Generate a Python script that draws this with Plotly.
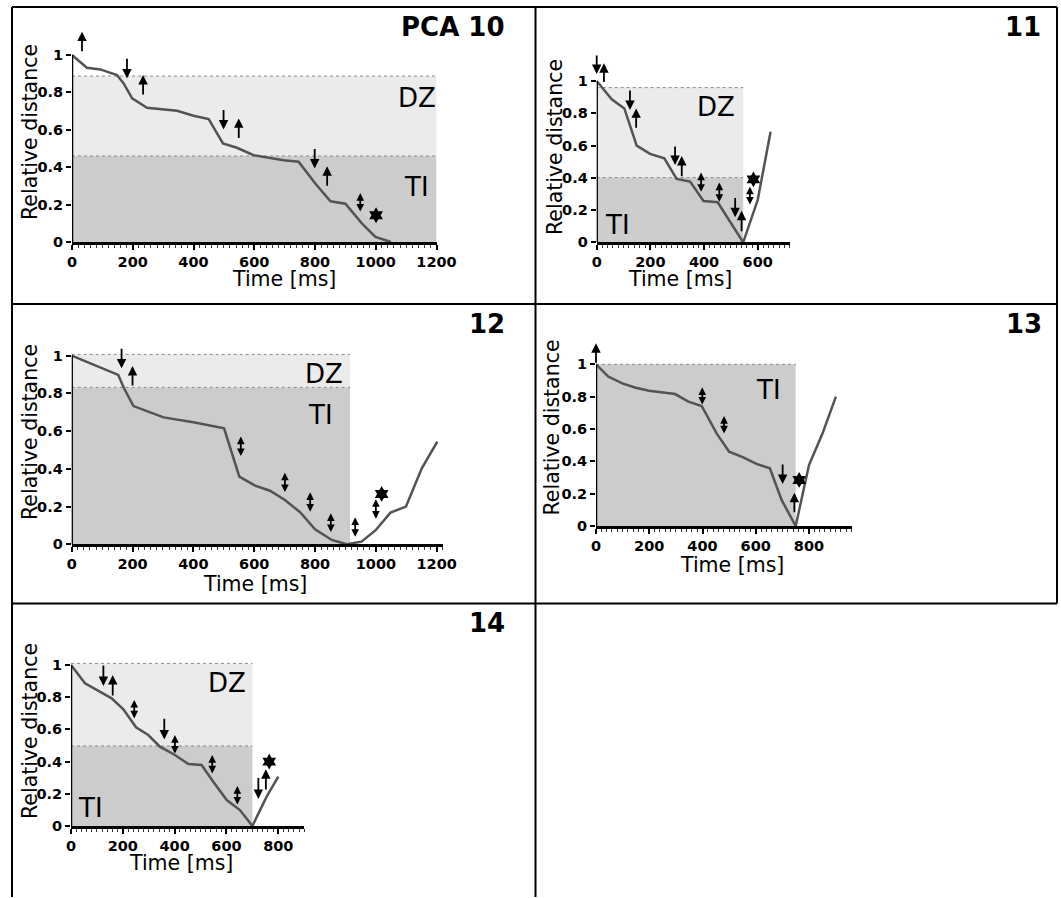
import plotly.graph_objects as go

W, H = 1061, 898

# ---------------- data ----------------
# Panel "PCA 10"
p10_t = [0, 49, 93, 148, 170, 198, 247, 346, 400, 450, 497, 543, 598, 697, 746, 801, 851, 900, 955, 999, 1050]
p10_d = [1.0, 0.932, 0.923, 0.893, 0.848, 0.768, 0.718, 0.702, 0.675, 0.657, 0.527, 0.504, 0.464,
         0.437, 0.429, 0.313, 0.218, 0.205, 0.098, 0.027, 0.0]
p10_dz = [0.46, 0.8875]
p10_ti = [0.0, 0.46]
p10_zone_end = 1200
p10_arrows = [(33, 1.018, 1.125), (181, 0.982, 0.875), (234, 0.786, 0.893), (499, 0.709, 0.602),
              (549, 0.554, 0.661), (799, 0.5, 0.393), (840, 0.298, 0.405)]   # (time, tail, tip)
p10_double = [(949, 0.16, 0.262)]
p10_star = [(1001, 0.143)]

# Panel 11
p11_t = [0, 56, 103, 149, 199, 252, 298, 348, 398, 451, 546, 600, 648]
p11_d = [1.0, 0.886, 0.83, 0.599, 0.548, 0.521, 0.393, 0.376, 0.256, 0.248, 0.0, 0.262, 0.686]
p11_dz = [0.401, 0.959]
p11_ti = [0.0, 0.401]
p11_zone_end = 546
p11_arrows = [(0, 1.161, 1.043), (27, 0.99, 1.11), (124, 0.944, 0.82), (147, 0.707, 0.83),
              (292, 0.597, 0.479), (317, 0.407, 0.535), (516, 0.277, 0.155), (540, 0.066, 0.196)]
p11_double = [(389, 0.31, 0.432), (457, 0.248, 0.37), (571, 0.231, 0.345)]
p11_star = [(584, 0.39)]

# Panel 12
p12_t = [0, 153, 172, 203, 302, 400, 501, 551, 603, 652, 701, 751, 800, 855, 904, 953, 1000, 1048, 1099, 1151, 1202]
p12_d = [1.0, 0.898, 0.827, 0.733, 0.673, 0.647, 0.615, 0.359, 0.311, 0.284, 0.235, 0.17, 0.08, 0.023,
         0.0, 0.014, 0.076, 0.168, 0.2, 0.403, 0.544]
p12_dz = [0.832, 1.007]
p12_ti = [0.0, 0.832]
p12_zone_end = 915
p12_arrows = [(164, 1.039, 0.933), (200, 0.839, 0.945)]
p12_double = [(556, 0.465, 0.571), (701, 0.274, 0.38), (784, 0.17, 0.276), (852, 0.062, 0.164),
              (932, 0.037, 0.143), (1000, 0.133, 0.239)]
p12_star = [(1019, 0.267)]

# Panel 13
p13_t = [0, 46, 99, 146, 199, 297, 347, 397, 453, 500, 553, 603, 653, 697, 750, 800, 851, 901]
p13_d = [1.0, 0.924, 0.882, 0.857, 0.837, 0.816, 0.769, 0.742, 0.573, 0.46, 0.425, 0.384, 0.357,
         0.161, 0.0, 0.377, 0.573, 0.8]
p13_dz = None
p13_ti = [0.0, 1.0]
p13_zone_end = 750
p13_arrows = [(0, 1.006, 1.13), (701, 0.384, 0.26), (745, 0.082, 0.206)]
p13_double = [(399, 0.748, 0.858), (481, 0.569, 0.68)]
p13_star = [(763, 0.285)]

# Panel 14
p14_t = [0, 54, 157, 202, 251, 298, 343, 401, 453, 504, 549, 601, 652, 700, 755, 800]
p14_d = [1.0, 0.886, 0.793, 0.725, 0.613, 0.565, 0.493, 0.441, 0.385, 0.379, 0.275, 0.161, 0.099,
         0.0, 0.182, 0.306]
p14_dz = [0.497, 1.01]
p14_ti = [0.0, 0.497]
p14_zone_end = 700
p14_arrows = [(125, 1.0, 0.87), (161, 0.807, 0.938), (360, 0.669, 0.538), (723, 0.302, 0.168),
              (752, 0.224, 0.352)]
p14_double = [(244, 0.665, 0.783), (401, 0.447, 0.565), (545, 0.323, 0.441), (642, 0.13, 0.248)]
p14_star = [(765, 0.4)]

panel_labels = ["PCA 10", "11", "12", "13", "14"]
x_ticks = [0, 200, 400, 600, 800, 1000, 1200]
y_ticks = [0, 0.2, 0.4, 0.6, 0.8, 1.0]
y_ticktext = ["0", "0.2", "0.4", "0.6", "0.8", "1"]

# ---------------- layout geometry (pixels) ----------------
panels = [
    dict(t=p10_t, d=p10_d, dz=p10_dz, ti=p10_ti, zend=p10_zone_end, arrows=p10_arrows, dbl=p10_double,
         star=p10_star, xmax=1200, x0=72, xs=364.5 / 1200, y0=242, y1=55,
         lab=(507, 27), ttl=(284, 279), rel=(30, 132), dzp=(417, 98), tip=(416, 187)),
    dict(t=p11_t, d=p11_d, dz=p11_dz, ti=p11_ti, zend=p11_zone_end, arrows=p11_arrows, dbl=p11_double,
         star=p11_star, xmax=720, x0=596.7, xs=161 / 600, y0=242.3, y1=81,
         lab=(1043, 27), ttl=(680, 278.5), rel=(555, 147), dzp=(715.5, 107.5), tip=(617, 224.5)),
    dict(t=p12_t, d=p12_d, dz=p12_dz, ti=p12_ti, zend=p12_zone_end, arrows=p12_arrows, dbl=p12_double,
         star=p12_star, xmax=1220, x0=71.7, xs=365 / 1200, y0=544.3, y1=355.7,
         lab=(507, 324), ttl=(255, 583.5), rel=(30, 432), dzp=(324, 374), tip=(320, 414.5)),
    dict(t=p13_t, d=p13_d, dz=p13_dz, ti=p13_ti, zend=p13_zone_end, arrows=p13_arrows, dbl=p13_double,
         star=p13_star, xmax=960, x0=596, xs=213 / 800, y0=526, y1=364.3,
         lab=(1044, 324), ttl=(731.5, 564.5), rel=(551, 427.5), dzp=None, tip=(768, 390)),
    dict(t=p14_t, d=p14_d, dz=p14_dz, ti=p14_ti, zend=p14_zone_end, arrows=p14_arrows, dbl=p14_double,
         star=p14_star, xmax=900, x0=71, xs=207.3 / 800, y0=826, y1=665,
         lab=(507, 623), ttl=(181, 863), rel=(30, 731), dzp=(227, 683), tip=(90, 808)),
]

YMAX = 1.2
FONT = "DejaVu Sans"
LINE_COLOR = "#535353"
DZ_COLOR = "#ebebeb"
TI_COLOR = "#cccccc"


def px(x):
    return x / W


def py(y):
    return 1 - y / H


fig = go.Figure()
shapes = []
annotations = []
layout = {}

for i, p in enumerate(panels):
    n = i + 1
    sfx = "" if n == 1 else str(n)
    xr, yr = "x" + sfx, "y" + sfx
    right = p["x0"] + p["xmax"] * p["xs"]
    top = p["y0"] - YMAX * (p["y0"] - p["y1"])
    layout["xaxis" + sfx] = dict(
        domain=[px(p["x0"]), px(right)], range=[0, p["xmax"]], anchor=yr, automargin=False,
        showline=True, linecolor="black", linewidth=2.5, showgrid=False, zeroline=False,
        ticks="outside", ticklen=5, tickwidth=2, tickcolor="black",
        tickvals=[v for v in x_ticks if v <= p["xmax"]],
        tickfont=dict(family=FONT, size=14.5, color="black", weight="bold"),
        minor=dict(dtick=20, ticks="outside", ticklen=3, tickwidth=1, tickcolor="#333"),
        fixedrange=True,
    )
    layout["yaxis" + sfx] = dict(
        domain=[py(p["y0"]), py(top)], range=[0, YMAX], anchor=xr, automargin=False,
        showline=False, showgrid=False, zeroline=False,
        ticks="outside", ticklen=5, tickwidth=2, tickcolor="black",
        tickvals=y_ticks, ticktext=y_ticktext,
        tickfont=dict(family=FONT, size=14.5, color="black", weight="bold"),
        fixedrange=True,
    )
    # zones
    if p["dz"] is not None:
        shapes.append(dict(type="rect", xref=xr, yref=yr, x0=0, x1=p["zend"], y0=p["dz"][0], y1=p["dz"][1],
                           fillcolor=DZ_COLOR, line=dict(width=0), layer="below"))
        shapes.append(dict(type="line", xref=xr, yref=yr, x0=0, x1=p["zend"], y0=p["dz"][1], y1=p["dz"][1],
                           line=dict(color="#8a8a8a", width=1, dash="dot"), layer="below"))
    shapes.append(dict(type="rect", xref=xr, yref=yr, x0=0, x1=p["zend"], y0=p["ti"][0], y1=p["ti"][1],
                       fillcolor=TI_COLOR, line=dict(width=0), layer="below"))
    shapes.append(dict(type="line", xref=xr, yref=yr, x0=0, x1=p["zend"], y0=p["ti"][1], y1=p["ti"][1],
                       line=dict(color="#8a8a8a", width=1, dash="dot"), layer="below"))
    # y axis line from 0 to 1
    shapes.append(dict(type="line", xref=xr, yref=yr, x0=0, x1=0, y0=0, y1=1,
                       line=dict(color="black", width=2.5)))
    # data line
    fig.add_trace(go.Scatter(x=p["t"], y=p["d"], mode="lines", xaxis=xr, yaxis=yr,
                             line=dict(color=LINE_COLOR, width=2.5), showlegend=False,
                             hoverinfo="skip"))
    # star
    fig.add_trace(go.Scatter(x=[s[0] for s in p["star"]], y=[s[1] for s in p["star"]], mode="markers",
                             xaxis=xr, yaxis=yr, cliponaxis=False, showlegend=False, hoverinfo="skip",
                             marker=dict(symbol="hexagram", size=12, color="black")))
    # arrows
    for (t, tail, tip) in p["arrows"]:
        annotations.append(dict(x=t, y=tip, ax=t, ay=tail, xref=xr, yref=yr, axref=xr, ayref=yr,
                                text="", showarrow=True, arrowhead=2, arrowsize=1.05, arrowwidth=1.8,
                                arrowcolor="black", standoff=0, font=dict(size=1), borderpad=0))
    for (t, a, b) in p["dbl"]:
        annotations.append(dict(x=t, y=b, ax=t, ay=a, xref=xr, yref=yr, axref=xr, ayref=yr,
                                text="", showarrow=True, arrowhead=2, arrowsize=0.85, arrowwidth=1.8,
                                arrowside="end+start", startarrowhead=2, startarrowsize=0.85,
                                arrowcolor="black", standoff=0, startstandoff=0,
                                font=dict(size=1), borderpad=0))
    # texts
    annotations.append(dict(x=px(p["lab"][0]), y=py(p["lab"][1]), xref="paper", yref="paper",
                            text=panel_labels[i], showarrow=False, xanchor="right", yanchor="middle",
                            font=dict(family=FONT, size=26, color="black", weight="bold")))
    annotations.append(dict(x=px(p["ttl"][0]), y=py(p["ttl"][1]), xref="paper", yref="paper",
                            text="Time [ms]", showarrow=False, xanchor="center", yanchor="middle",
                            font=dict(family=FONT, size=20.5, color="black")))
    annotations.append(dict(x=px(p["rel"][0]), y=py(p["rel"][1]), xref="paper", yref="paper",
                            text="Relative distance", showarrow=False, xanchor="center", yanchor="middle",
                            textangle=-90, font=dict(family=FONT, size=20.5, color="black")))
    if p["dzp"] is not None:
        annotations.append(dict(x=px(p["dzp"][0]), y=py(p["dzp"][1]), xref="paper", yref="paper",
                                text="DZ", showarrow=False, xanchor="center", yanchor="middle",
                                font=dict(family=FONT, size=26, color="black")))
    annotations.append(dict(x=px(p["tip"][0]), y=py(p["tip"][1]), xref="paper", yref="paper",
                            text="TI", showarrow=False, xanchor="center", yanchor="middle",
                            font=dict(family=FONT, size=26, color="black")))

# panel frame lines
frame = [
    (12, 7, 1057, 7), (12, 7, 12, 897), (1057, 7, 1057, 603.5), (535.5, 7, 535.5, 897),
    (12, 304, 1057, 304), (12, 603.5, 1057, 603.5),
]
for (xa, ya, xb, yb) in frame:
    shapes.append(dict(type="line", xref="paper", yref="paper", x0=px(xa), y0=py(ya), x1=px(xb), y1=py(yb),
                       line=dict(color="black", width=2)))

fig.update_layout(
    width=W, height=H, margin=dict(l=0, r=0, t=0, b=0, autoexpand=False),
    paper_bgcolor="white", plot_bgcolor="rgba(0,0,0,0)",
    shapes=shapes, annotations=annotations, showlegend=False,
    **layout,
)

fig.write_html("out.html", config={"displayModeBar": False},
               post_script="document.body.style.margin='0';")
